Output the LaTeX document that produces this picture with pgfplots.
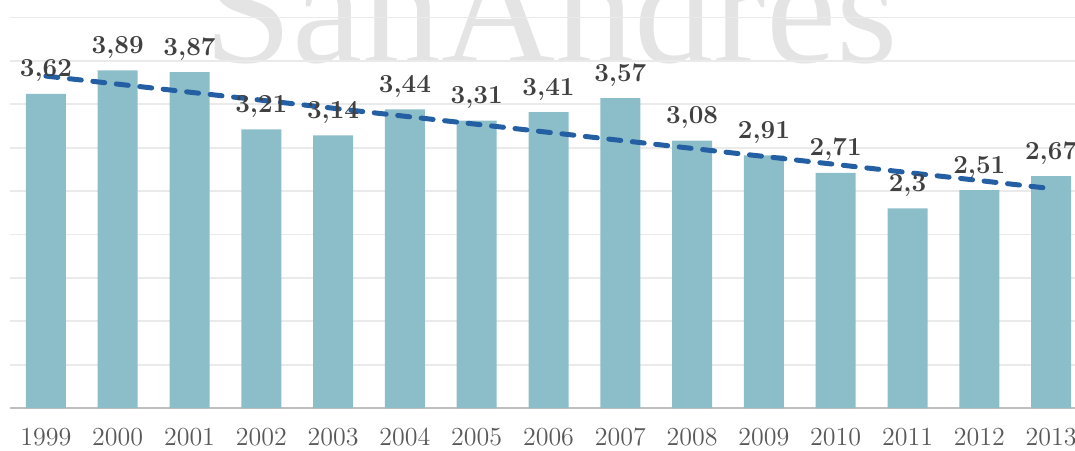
\documentclass[border=0pt]{standalone}
\usepackage{pgfplots}
\pgfplotsset{compat=1.18}
\usepackage{fontspec}
\newfontfamily\wmfont{Liberation Serif}
\definecolor{barc}{RGB}{139,190,200}
\definecolor{trend}{RGB}{36,94,163}
\definecolor{lbl}{RGB}{64,64,64}
\definecolor{tickc}{RGB}{89,89,89}
\definecolor{gridc}{RGB}{234,234,234}
\definecolor{wm}{RGB}{228,228,228}
\definecolor{basec}{RGB}{191,191,191}
\begin{document}
\begin{tikzpicture}
\node[anchor=base, text=wm, font=\wmfont\fontsize{79}{80}\selectfont, inner sep=0pt] at (270.5pt,172.5pt) {SanAndres};
\begin{axis}[
  at={(0,0)}, anchor=south west,
  scale only axis, width=538.5pt, height=199.64pt,
  xmin=-0.5, xmax=14.5, ymin=0, ymax=4.6,
  axis line style={draw=none},
  ytick={0.5,1,...,4.5}, yticklabels={},
  ymajorgrids, grid style={draw=gridc, line width=0.9pt},
  extra y ticks={0}, extra y tick labels={},
  extra y tick style={grid style={draw=basec, line width=1.1pt}},
  major tick length=0pt,
  xtick={0,...,14},
  xticklabels={1999,2000,2001,2002,2003,2004,2005,2006,2007,2008,2009,2010,2011,2012,2013},
  xticklabel style={anchor=base, yshift=-18.9pt, font=\fontsize{13}{15}\selectfont, text=tickc},
  clip=false,
]
\addplot[ybar, bar width=20pt, fill=barc, draw=none,
  nodes near coords={\pgfmathprintnumber[use comma, assume math mode=true]{\pgfplotspointmeta}},
  every node near coord/.append style={anchor=base, yshift=8.5pt, font=\bfseries\fontsize{13}{15}\selectfont, text=lbl, inner sep=0pt},
] coordinates {
(0,3.62) (1,3.89) (2,3.87) (3,3.21) (4,3.14) (5,3.44) (6,3.31) (7,3.41)
(8,3.57) (9,3.08) (10,2.91) (11,2.71) (12,2.3) (13,2.51) (14,2.67)
};
\addplot[sharp plot, draw=trend, line width=2.5pt, line cap=round, dash pattern=on 6pt off 5.8pt] coordinates {
(0,3.824) (14,2.528)
};
\end{axis}
\pgfresetboundingbox
\path[use as bounding box] (-5pt,-21pt) rectangle (532.5pt,204pt);
\end{tikzpicture}
\end{document}
